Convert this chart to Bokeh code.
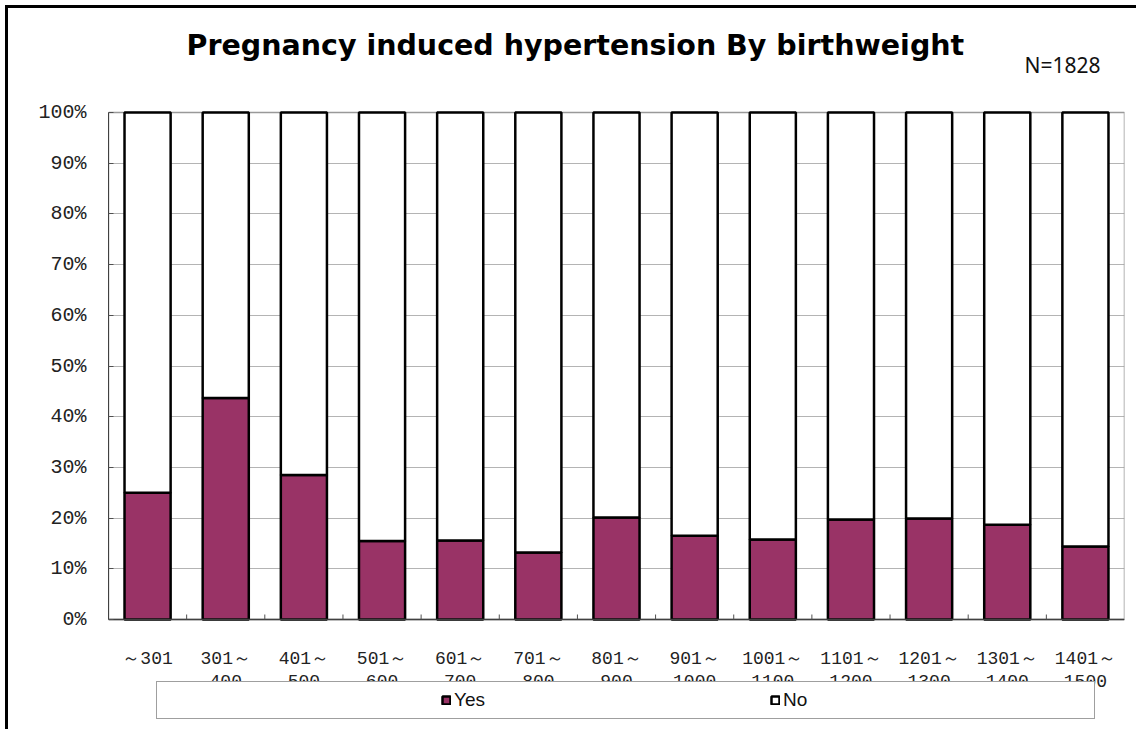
from bokeh.plotting import figure
from bokeh.models import (FixedTicker, Legend, LegendItem,
                          ColumnDataSource, Range1d)
from bokeh.core.properties import value
from bokeh.embed import file_html
from bokeh.resources import INLINE

# ---- data ----
categories = ["～301", "301～\n400", "401～\n500", "501～\n600", "601～\n700",
              "701～\n800", "801～\n900", "901～\n1000", "1001～\n1100",
              "1101～\n1200", "1201～\n1300", "1301～\n1400", "1401～\n1500"]
yes_pct = [25.0, 43.7, 28.5, 15.5, 15.6, 13.2, 20.1, 16.5, 15.8, 19.7, 19.9, 18.7, 14.4]
no_pct = [75.0, 56.3, 71.5, 84.5, 84.4, 86.8, 79.9, 83.5, 84.2, 80.3, 80.1, 81.3, 85.6]
y_ticks = [0, 10, 20, 30, 40, 50, 60, 70, 80, 90, 100]
y_tick_labels = ["0%", "10%", "20%", "30%", "40%", "50%", "60%", "70%", "80%", "90%", "100%"]
series_names = ["Yes", "No"]
series_colors = ["#993366", "#ffffff"]
title_text = "Pregnancy induced hypertension By birthweight"
n_text = "N=1828"

# ---- layout (pixels) ----
W, H = 1136, 729
LEFT, RIGHT = 108, 1124          # plot area horizontal extent
TOP100, BOTTOM0 = 112, 619       # pixel rows of 100% and 0%
PXU = (BOTTOM0 - TOP100) / 100.0
n = len(categories)
PXC = (RIGHT - LEFT) / n


def ydat(px):
    return (BOTTOM0 - px) / PXU


def xdat(px):
    return (px - LEFT) / PXC


centers = [i + 0.5 for i in range(n)]
bounds = [float(i) for i in range(1, n)]

src = ColumnDataSource(dict(x=centers, Yes=yes_pct, No=no_pct))

p = figure(width=W, height=H, x_range=Range1d(0, n),
           y_range=Range1d(ydat(H), ydat(0)), output_backend="svg",
           toolbar_location=None, x_axis_location=None,
           min_border_left=LEFT, min_border_right=W - RIGHT, min_border_top=0,
           min_border_bottom=0)
p.border_fill_color = None
p.background_fill_color = None
p.outline_line_color = None
p.styles = {"box-shadow": "inset 5px 5px 0 0 white, inset 8px 8px 0 0 black"}

# plot-area frame
p.quad(left=[0], right=[n], bottom=[0], top=[100], fill_color=None,
       line_color="#999999", line_width=1.5)

rs = p.vbar_stack(series_names, x="x", width=0.59, source=src,
                  fill_color=series_colors, line_color="black", line_width=2.5)

# category axis line, ticks and labels
p.segment(x0=[0], y0=[0], x1=[n], y1=[0], line_color="#404040", line_width=1.5)
p.segment(x0=bounds, y0=[0] * len(bounds), x1=bounds, y1=[5 / PXU] * len(bounds),
          line_color="#505050", line_width=1)
p.text(x=centers, y=[ydat(648)] * n, text=categories, text_align="center",
       text_baseline="top", text_font=value("Liberation Mono"),
       text_font_size="18px", text_line_height=1.15, text_color="#222222")

# value axis
p.yaxis.ticker = FixedTicker(ticks=y_ticks)
p.yaxis.bounds = (0, 100)
p.yaxis.major_label_overrides = {t: lab for t, lab in zip(y_ticks, y_tick_labels)}
p.yaxis.major_tick_in = 5
p.yaxis.major_tick_out = 0
p.yaxis.minor_tick_line_color = None
p.yaxis.major_tick_line_color = "#505050"
p.yaxis.axis_line_color = "#404040"
p.yaxis.major_label_standoff = 22
p.yaxis.major_label_text_font = "Liberation Mono"
p.yaxis.major_label_text_font_size = "20px"
p.yaxis.major_label_text_color = "#222222"

p.xgrid.visible = False
p.ygrid.ticker = FixedTicker(ticks=y_ticks)
p.ygrid.grid_line_color = "#b4b4b4"

# titles
p.text(x=[xdat(186)], y=[ydat(45)], text=[title_text], text_align="left",
       text_baseline="alphabetic", text_font=value("DejaVu Sans"),
       text_font_size="28.5px", text_font_style="bold", text_color="black")
p.text(x=[xdat(1100)], y=[ydat(64)], text=[n_text], text_align="right",
       text_baseline="alphabetic", text_font=value("Noto Sans"),
       text_font_size="21px", text_color="#111111")

# legend (invisible padding widens the items to spread them across the framed box)
ZW = "\u200b"
dummy = p.vbar(x=[], top=[], width=0.1, fill_alpha=0, line_alpha=0)
legend_items = [LegendItem(label=ZW + " " * 50 + ZW, renderers=[dummy]),
                LegendItem(label=series_names[0] + " " * 54 + ZW, renderers=[rs[0]]),
                LegendItem(label=series_names[1] + " " * 53 + ZW, renderers=[rs[1]])]
legend = Legend(items=legend_items,
                orientation="horizontal", location=(156 - LEFT, H - 719),
                padding=7, margin=0, spacing=0, glyph_width=10, glyph_height=10,
                label_standoff=3, label_width=20, label_height=20,
                label_text_font="Liberation Sans", label_text_font_size="19px",
                label_text_color="#111111",
                border_line_color="#404040", border_line_width=1,
                background_fill_color="white", background_fill_alpha=1)
p.add_layout(legend)

open("out.html", "w").write(file_html(p, INLINE))
